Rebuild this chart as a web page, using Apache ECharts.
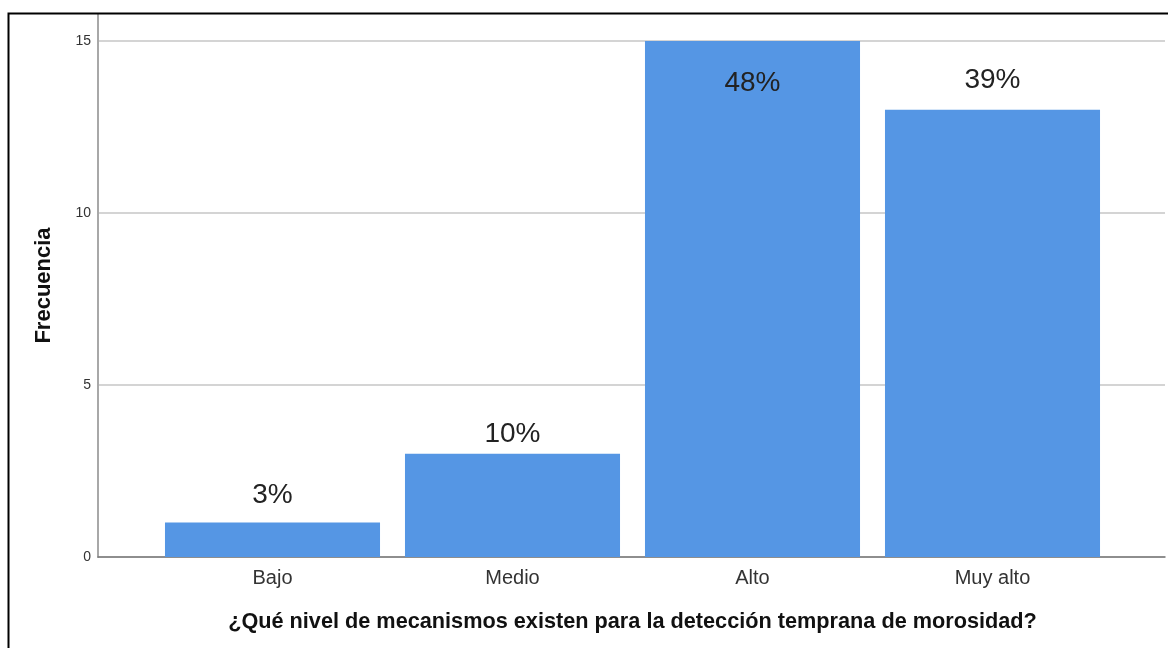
<!DOCTYPE html>
<html>
<head>
<meta charset="utf-8">
<script src="https://cdn.jsdelivr.net/npm/echarts@6/dist/echarts.min.js"></script>
<style>
html,body{margin:0;padding:0;background:#fff;}
#chart{width:1168px;height:648px;}
</style>
</head>
<body>
<div id="chart"></div>
<script>
const categories = ['Bajo', 'Medio', 'Alto', 'Muy alto'];
const frequencies = [1, 3, 15, 13];
const percentLabels = ['3%', '10%', '48%', '39%'];
const yTicks = { min: 0, max: 15, interval: 5 };
const xTitle = '¿Qué nivel de mecanismos existen para la detección temprana de morosidad?';
const yTitle = 'Frecuencia';

// label placement styling per category
const labelStyle = {
  'Bajo': { position: 'top', distance: 13 },
  'Medio': { position: 'top', distance: 6 },
  'Alto': { position: 'insideTop', distance: 28 },
  'Muy alto': { position: 'top', distance: 16 }
};

const barColor = '#5596E4';
const FONT = 'Liberation Sans, Arial, sans-serif';
const chart = echarts.init(document.getElementById('chart'), null, { renderer: 'canvas' });

const option = {
  backgroundColor: '#fff',
  animation: false,
  graphic: [{
    type: 'rect', left: 6, top: 11, z: 100,
    shape: { width: 1170, height: 700 },
    style: { fill: 'none', stroke: '#000', lineWidth: 2 }
  }],
  grid: [
    { left: 152.5, right: 55.5, top: 41, bottom: 91 },   // bars
    { left: 98, right: 3, top: 41, bottom: 91 },          // gridlines + ticks
    { left: 98, right: 3, top: 14, bottom: 91 }           // y axis line
  ],
  xAxis: [
    {
      gridIndex: 0, type: 'category', data: categories,
      axisLine: { show: false }, axisTick: { show: false },
      axisLabel: { fontSize: 20, color: '#333', margin: 11, fontFamily: FONT },
      name: xTitle, nameLocation: 'middle', nameGap: 54,
      nameTextStyle: { fontSize: 21.7, fontWeight: 'bold', color: '#111', fontFamily: FONT }
    },
    {
      gridIndex: 1, type: 'value', min: 0, max: 1,
      axisLine: { show: true, lineStyle: { color: '#777', width: 1.5 } },
      axisTick: { show: false }, axisLabel: { show: false }, splitLine: { show: false }
    },
    {
      gridIndex: 2, type: 'value', min: 0, max: 1, show: false
    }
  ],
  yAxis: [
    {
      gridIndex: 0, type: 'value', min: yTicks.min, max: yTicks.max, interval: yTicks.interval, show: false
    },
    {
      gridIndex: 1, type: 'value', min: yTicks.min, max: yTicks.max, interval: yTicks.interval,
      axisLine: { show: false }, axisTick: { show: false },
      axisLabel: { fontSize: 14, color: '#333', margin: 7, fontFamily: FONT },
      splitLine: { show: true, lineStyle: { color: '#d4d4d4', width: 2 } }
    },
    {
      gridIndex: 2, type: 'value', min: 0, max: 1,
      axisLine: { show: true, lineStyle: { color: '#a8a8a8', width: 2 } },
      axisTick: { show: false }, axisLabel: { show: false }, splitLine: { show: false },
      name: yTitle, nameLocation: 'middle', nameGap: 43,
      nameTextStyle: { fontSize: 22, fontWeight: 'bold', color: '#111', fontFamily: FONT }
    }
  ],
  series: [{
    type: 'bar',
    xAxisIndex: 0, yAxisIndex: 0,
    barCategoryGap: '10.4%',
    itemStyle: { color: barColor },
    data: frequencies.map((v, i) => ({
      value: v,
      label: {
        show: true,
        position: labelStyle[categories[i]].position,
        distance: labelStyle[categories[i]].distance,
        formatter: percentLabels[i],
        fontSize: 28,
        color: '#222',
        fontFamily: FONT
      }
    }))
  }]
};
chart.setOption(option);
</script>
</body>
</html>
